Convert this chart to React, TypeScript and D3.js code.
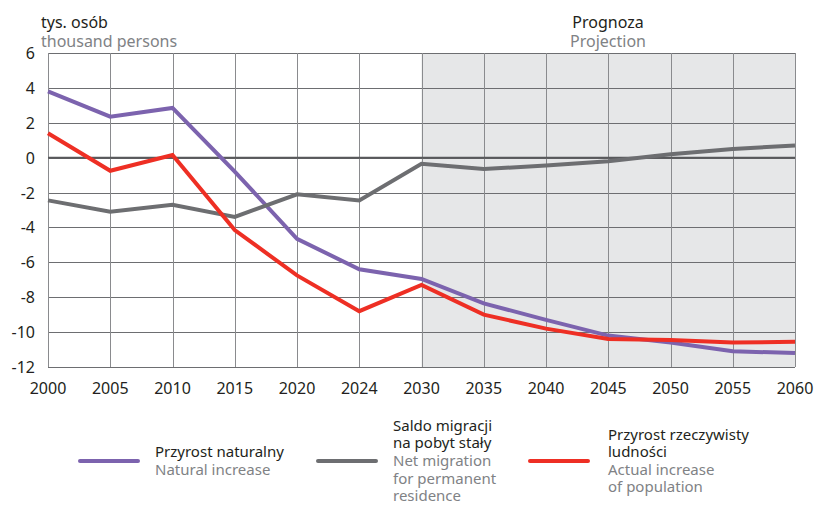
import React, { useRef, useEffect } from "react";
import * as d3 from "d3";

// years are evenly spaced on the axis (2024 sits in a 5-year slot)
const years = ["2000", "2005", "2010", "2015", "2020", "2024", "2030", "2035", "2040", "2045", "2050", "2055", "2060"];
const yTicks = [6, 4, 2, 0, -2, -4, -6, -8, -10, -12];

const naturalIncrease = [3.8, 2.35, 2.85, -0.8, -4.65, -6.4, -6.95, -8.35, -9.3, -10.2, -10.6, -11.1, -11.2];
const netMigration = [-2.45, -3.1, -2.7, -3.4, -2.1, -2.45, -0.35, -0.65, -0.45, -0.2, 0.2, 0.5, 0.7];
const actualIncrease = [1.4, -0.75, 0.15, -4.15, -6.75, -8.8, -7.3, -9.0, -9.8, -10.4, -10.45, -10.6, -10.55];

const projectionStart = "2030";

const series = [
  { key: "nat", values: naturalIncrease, color: "#7c63ae", pl: ["Przyrost naturalny"], en: ["Natural increase"] },
  { key: "mig", values: netMigration, color: "#6d6e71", pl: ["Saldo migracji", "na pobyt stały"], en: ["Net migration", "for permanent", "residence"] },
  { key: "act", values: actualIncrease, color: "#ee2f24", pl: ["Przyrost rzeczywisty", "ludności"], en: ["Actual increase", "of population"] },
];

const FONT = "'Noto Sans', 'Open Sans', sans-serif";

const App = () => {
  const svgRef = useRef(null);

  useEffect(() => {
    const svg = d3.select(svgRef.current);
    svg.selectAll("*").remove();

    const left = 48, right = 795, top = 53, bottom = 367;
    const x = d3.scalePoint().domain(years).range([left, right]);
    const y = d3.scaleLinear().domain([-12, 6]).range([bottom, top]);

    // projection shading
    svg.append("rect")
      .attr("x", x(projectionStart))
      .attr("y", top)
      .attr("width", right - x(projectionStart))
      .attr("height", bottom - top)
      .attr("fill", "#e6e7e8");

    // grid
    const grid = svg.append("g").attr("stroke", "#6d6e71").attr("stroke-width", 1);
    grid.selectAll("line.h").data(yTicks).join("line")
      .attr("x1", left).attr("x2", right)
      .attr("y1", (d) => Math.round(y(d)) + 0.5).attr("y2", (d) => Math.round(y(d)) + 0.5);
    grid.selectAll("line.v").data(years).join("line")
      .attr("stroke", "#8a8b8e")
      .attr("x1", (d) => Math.round(x(d)) + 0.5).attr("x2", (d) => Math.round(x(d)) + 0.5)
      .attr("y1", top).attr("y2", bottom);

    // zero line
    svg.append("line")
      .attr("x1", left).attr("x2", right)
      .attr("y1", y(0)).attr("y2", y(0))
      .attr("stroke", "#58595b").attr("stroke-width", 2);

    // tick labels
    svg.append("g").selectAll("text").data(yTicks).join("text")
      .attr("x", 35).attr("y", (d) => y(d) + 6)
      .attr("text-anchor", "end")
      .attr("font-family", FONT).attr("font-size", 16).attr("fill", "#231f20")
      .text((d) => d);
    svg.append("g").selectAll("text").data(years).join("text")
      .attr("x", (d) => x(d)).attr("y", 394)
      .attr("text-anchor", "middle")
      .attr("font-family", FONT).attr("font-size", 16).attr("fill", "#231f20")
      .text((d) => d);

    // lines
    const line = d3.line().x((d, i) => x(years[i])).y((d) => y(d));
    series.forEach((s) => {
      svg.append("path")
        .datum(s.values)
        .attr("d", line)
        .attr("fill", "none")
        .attr("stroke", s.color)
        .attr("stroke-width", 4)
        .attr("stroke-linejoin", "miter");
    });

    // titles
    const titles = [
      { x: 41, anchor: "start", pl: "tys. osób", en: "thousand persons" },
      { x: 608, anchor: "middle", pl: "Prognoza", en: "Projection" },
    ];
    titles.forEach((t) => {
      svg.append("text").attr("x", t.x).attr("y", 28).attr("text-anchor", t.anchor)
        .attr("font-family", FONT).attr("font-size", 16).attr("fill", "#231f20").text(t.pl);
      svg.append("text").attr("x", t.x).attr("y", 47).attr("text-anchor", t.anchor)
        .attr("font-family", FONT).attr("font-size", 16).attr("fill", "#808285").text(t.en);
    });

    // legend: text blocks centred vertically on the key line
    const legendX = [80, 318, 530];
    const legendTextX = [155, 393, 608];
    const lineY = 461;
    const lh = 17.6;
    const midBase = 466;
    series.forEach((s, i) => {
      svg.append("line")
        .attr("x1", legendX[i]).attr("x2", legendX[i] + 58)
        .attr("y1", lineY).attr("y2", lineY)
        .attr("stroke", s.color).attr("stroke-width", 4).attr("stroke-linecap", "round");
      const all = [...s.pl.map((t) => ({ t, c: "#231f20" })), ...s.en.map((t) => ({ t, c: "#808285" }))];
      const startY = midBase - ((all.length - 1) / 2) * lh;
      all.forEach((row, j) => {
        svg.append("text")
          .attr("x", legendTextX[i]).attr("y", startY + j * lh)
          .attr("font-family", FONT).attr("font-size", 15).attr("fill", row.c)
          .text(row.t);
      });
    });
  }, []);

  return (
    <svg
      ref={svgRef}
      width={817}
      height={505}
      style={{ position: "absolute", left: 0, top: 0, background: "#fff" }}
    />
  );
};

export default App;
